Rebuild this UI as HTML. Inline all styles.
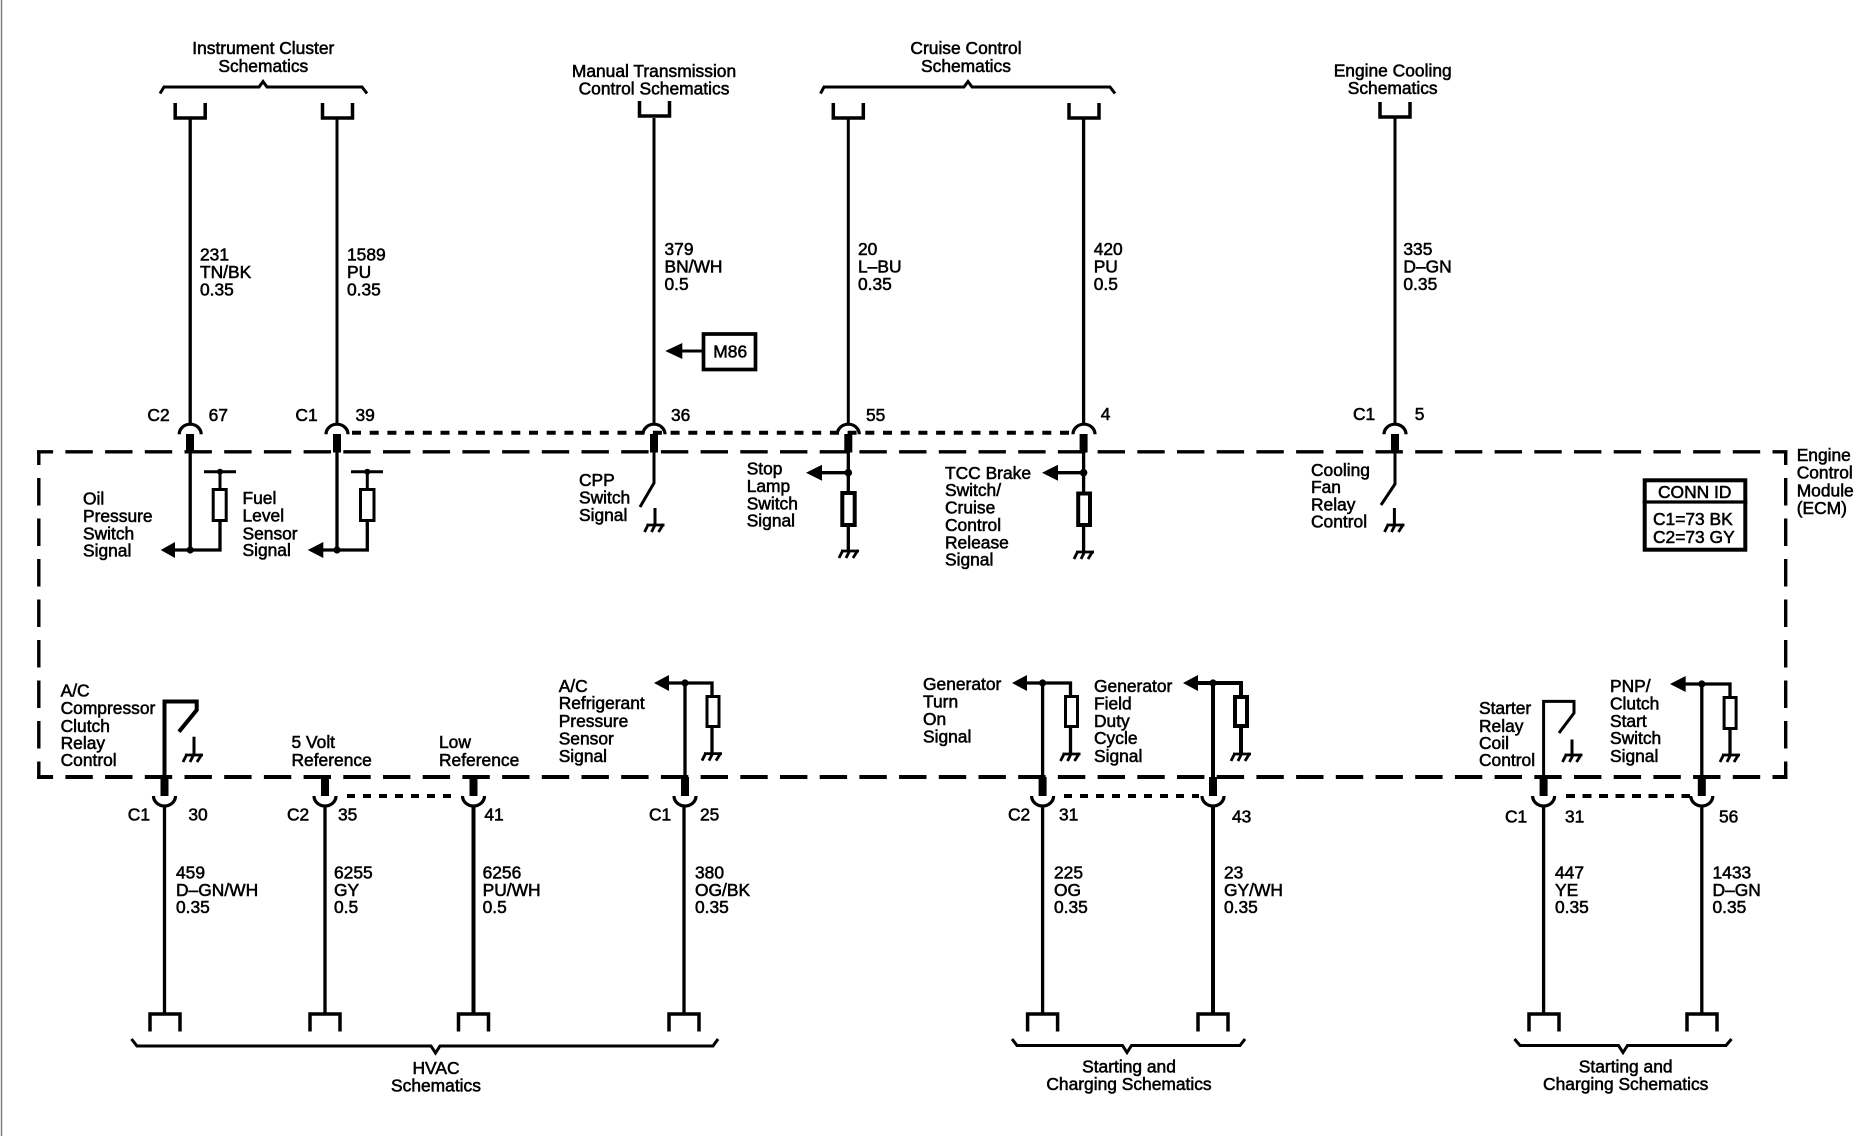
<!DOCTYPE html>
<html><head><meta charset="utf-8"><title>ECM Schematic</title>
<style>
html,body{margin:0;padding:0;background:#fff}
svg{display:block}
text{font-family:"Liberation Sans",sans-serif;font-size:17.4px;fill:#000;stroke:#000;stroke-width:.55}
.m{text-anchor:middle}
.w{fill:none;stroke:#000;stroke-width:3.3}
.t{fill:none;stroke:#000;stroke-width:3}
.b{fill:none;stroke:#000;stroke-width:4}
</style></head><body>
<svg xmlns="http://www.w3.org/2000/svg" width="1864" height="1136" viewBox="0 0 1864 1136">
<defs>
<g id="gnd" fill="none" stroke="#000" stroke-width="2.8"><path d="M-8 0H10M-6 -1L-10 7M1 -1L-3 7M9 -1L4 7"/></g>
<path id="arcT" d="M-11 11.5A11 10 0 0 1 11 11.5" fill="none" stroke="#000" stroke-width="3.2" transform="translate(0,0)"/>
<path id="arcB" d="M-11 0A11 10 0 0 0 11 0" fill="none" stroke="#000" stroke-width="3.2"/>
<path id="cT" d="M-15 0V15H15V0" fill="none" stroke="#000" stroke-width="3.5"/>
<path id="cB" d="M-15 17.5V0H15V17.5" fill="none" stroke="#000" stroke-width="3.5"/>
</defs>
<rect width="1864" height="1136" fill="#fff"/>
<path d="M1.5 0V1136" stroke="#777" stroke-width="1.4"/>

<!-- ECM dashed box -->
<g fill="none" stroke="#000">
<path d="M37 451.8H1787.5" stroke-width="3.4" stroke-dasharray="27.4 12.3" stroke-dashoffset="11.3"/>
<path d="M37 777H1787.5" stroke-width="4" stroke-dasharray="27.4 12.3" stroke-dashoffset="11.3"/>
<path d="M38.8 452V777" stroke-width="3.4" stroke-dasharray="27.5 13" stroke-dashoffset="14.5"/>
<path d="M1785.7 452V777" stroke-width="3.4" stroke-dasharray="27.5 13" stroke-dashoffset="14.5"/>
</g>

<!-- Top braces -->
<g>
<path class="t" d="M160 93.5L164 87H259L263 81.5L267 87H362L367 93.5"/>
<path class="t" d="M820.5 93.5L824 87H964L968 81.5L972 87H1110L1115 93.5"/>
<path class="t" d="M131.5 1039L137 1046H431L435.5 1053L440 1046H713L718 1039"/>
<path class="t" d="M1012 1039L1017 1045.5H1122.5L1127 1052.5L1131.5 1045.5H1240L1245 1039"/>
<path class="t" d="M1514.5 1039L1520 1045.5H1618.5L1623 1052.5L1627.5 1045.5H1726L1731.5 1039"/>
</g>

<!-- Top connectors -->
<use href="#cT" x="190.2" y="103"/><use href="#cT" x="337.5" y="103"/>
<use href="#cT" x="654.5" y="101"/><use href="#cT" x="848.3" y="103"/>
<use href="#cT" x="1084" y="103"/><use href="#cT" x="1395" y="102"/>

<!-- Top wires -->
<path class="w" d="M190.2 119V423"/><path class="t" d="M337 119V423"/>
<path class="t" d="M654 118V423"/><path class="t" d="M848.3 119V423"/>
<path class="w" d="M1083.6 119V423"/><path class="t" d="M1395 118V423"/>

<!-- M86 -->
<rect x="703.5" y="334" width="52" height="35.5" fill="#fff" stroke="#000" stroke-width="3.7"/>
<path d="M682 351H702" stroke="#000" stroke-width="3"/>
<path d="M665.3 351L682.3 343V359Z"/>
<text x="713.3" y="357.3">M86</text>

<!-- Top arcs, plugs -->
<use href="#arcT" x="190.2" y="422.7"/><use href="#arcT" x="337" y="422.7"/>
<use href="#arcT" x="654" y="422.7"/><use href="#arcT" x="848.3" y="422.7"/>
<use href="#arcT" x="1084" y="422.7"/><use href="#arcT" x="1395" y="422.7"/>
<path d="M352 432.7H1072" fill="none" stroke="#000" stroke-width="4" stroke-dasharray="9 8.7"/>
<g fill="#000">
<rect x="186" y="434" width="8" height="18.5"/><rect x="333" y="434" width="8" height="18.5"/>
<rect x="650" y="434" width="8" height="18.5"/><rect x="844.3" y="434" width="8" height="18.5"/>
<rect x="1079.6" y="434" width="8" height="18.5"/><rect x="1391" y="434" width="8" height="18.5"/>
</g>

<!-- Oil pressure / Fuel level -->
<path class="w" d="M190.2 452V550M172 550H220V522"/>
<path class="t" d="M220 488V471.7M204 471.7H236"/>
<rect class="t" x="213.2" y="489.5" width="13" height="31"/>
<path class="w" d="M337 452V550M320 550H367.3V522"/>
<path class="t" d="M367.3 488V471.7M351 471.7H383"/>
<rect class="t" x="360.5" y="489.5" width="13.5" height="31"/>
<path d="M160.7 550L175 542V558Z"/><path d="M307.7 550L323.3 542V558Z"/>
<circle cx="190.2" cy="550" r="3.6"/><circle cx="337" cy="550" r="3.6"/>
<circle cx="220" cy="471.7" r="3"/><circle cx="367.3" cy="471.7" r="3"/>

<!-- CPP switch -->
<path class="t" d="M654 452V483L640 507"/>
<path class="t" d="M655 508V525"/>
<use href="#gnd" x="654.5" y="525"/>

<!-- Stop lamp -->
<path class="w" d="M848.3 452V491M848.3 526.7V551M820 472.7H848"/>
<rect class="b" x="842.3" y="493" width="12.4" height="32"/>
<path d="M806 472.7L822 464.7V480.7Z"/><circle cx="848.3" cy="472.7" r="3.8"/>
<use href="#gnd" x="849" y="551"/>

<!-- TCC -->
<path class="w" d="M1083.6 452V492M1083.6 526V552M1056 472.7H1084"/>
<rect class="b" x="1078.2" y="493.5" width="11.8" height="31.5"/>
<path d="M1042 472.7L1058 464.7V480.7Z"/><circle cx="1083.6" cy="472.7" r="3.8"/>
<use href="#gnd" x="1084" y="552"/>

<!-- Cooling fan -->
<path class="t" d="M1395 452V484L1381 505"/>
<path class="t" d="M1394.4 508V525"/>
<use href="#gnd" x="1394.5" y="525"/>

<!-- CONN ID -->
<rect x="1644.7" y="480.3" width="100.6" height="69.4" fill="#fff" stroke="#000" stroke-width="4"/>
<path d="M1642.7 502H1747.3" stroke="#000" stroke-width="3.2"/>
<text x="1658" y="498">CONN ID</text>
<text x="1653" y="525">C1=73 BK</text>
<text x="1653" y="543">C2=73 GY</text>

<!-- Lower internals -->
<path class="b" d="M164.5 777V701.5H196.7V710L179 731.7"/>
<path class="t" d="M194 736.7V755"/><use href="#gnd" x="193" y="755"/>

<path class="w" d="M685 777V683M669 683H712V695M712 728V753.6"/>
<rect class="t" x="707" y="696.5" width="12" height="30"/>
<path d="M654 683L669 675V691Z"/><circle cx="685" cy="683" r="3.6"/>
<use href="#gnd" x="712" y="753.6"/>

<path class="w" d="M1042.6 777V683M1027 683H1070.5V695M1070.5 728V754"/>
<rect class="t" x="1065.5" y="696.5" width="12" height="30"/>
<path d="M1012 683L1027 675V691Z"/><circle cx="1042.6" cy="683" r="3.6"/>
<use href="#gnd" x="1070.5" y="754"/>

<path class="b" d="M1213 777V683M1198 683H1241V695M1241 728V754"/>
<rect class="b" x="1235" y="697" width="12" height="29"/>
<path d="M1183 683L1198 675V691Z"/><circle cx="1213" cy="683" r="3.6"/>
<use href="#gnd" x="1241" y="754"/>

<path class="t" d="M1543.6 777V701.4H1574V713L1559 733"/>
<path class="t" d="M1572 739.5V755"/><use href="#gnd" x="1572.5" y="755"/>

<path class="w" d="M1701.8 777V684M1685 684H1730V696M1730 730V755"/>
<rect class="t" x="1724.1" y="697.5" width="12" height="31"/>
<path d="M1670 684L1685.7 676V692Z"/><circle cx="1701.8" cy="684" r="3.6"/>
<use href="#gnd" x="1730" y="755"/>

<!-- Lower plugs + arcs -->
<g fill="#000">
<rect x="160.5" y="777" width="8" height="19"/><rect x="321" y="777" width="8" height="19"/>
<rect x="469.5" y="777" width="8" height="19"/><rect x="681" y="777" width="8" height="19"/>
<rect x="1038.6" y="777" width="8" height="19"/><rect x="1209" y="777" width="8" height="19"/>
<rect x="1539.6" y="777" width="8" height="19"/><rect x="1697.8" y="777" width="8" height="19"/>
</g>
<use href="#arcB" x="164.5" y="796"/><use href="#arcB" x="325" y="796"/>
<use href="#arcB" x="473.5" y="796"/><use href="#arcB" x="685" y="796"/>
<use href="#arcB" x="1042.6" y="796"/><use href="#arcB" x="1213" y="796"/>
<use href="#arcB" x="1543.6" y="796"/><use href="#arcB" x="1701.8" y="796"/>
<g fill="none" stroke="#000" stroke-width="4">
<path d="M347 796H459" stroke-dasharray="8 8"/>
<path d="M1064 796H1199" stroke-dasharray="8 8"/>
<path d="M1566 796H1690" stroke-dasharray="9 7.5"/>
</g>

<!-- Lower wires -->
<path class="w" d="M164.5 806V1014"/><path class="w" d="M325 806V1014"/>
<path class="b" d="M473.5 806V1014"/><path class="w" d="M684 806V1014"/>
<path class="w" d="M1042.6 806V1014"/><path class="b" d="M1213 806V1014"/>
<path class="w" d="M1543.6 806V1014"/><path class="w" d="M1701.8 806V1014"/>

<!-- Lower connectors -->
<use href="#cB" x="165" y="1014"/><use href="#cB" x="325" y="1014"/>
<use href="#cB" x="473.5" y="1014"/><use href="#cB" x="684" y="1014"/>
<use href="#cB" x="1042.6" y="1014"/><use href="#cB" x="1213" y="1014"/>
<use href="#cB" x="1544" y="1014"/><use href="#cB" x="1702" y="1014"/>

<!-- Top headers -->
<text class="m" x="263.3" y="54">Instrument Cluster</text>
<text class="m" x="263.3" y="72">Schematics</text>
<text class="m" x="654" y="77">Manual Transmission</text>
<text class="m" x="654" y="94.6">Control Schematics</text>
<text class="m" x="966" y="54">Cruise Control</text>
<text class="m" x="966" y="72">Schematics</text>
<text class="m" x="1392.7" y="76.5">Engine Cooling</text>
<text class="m" x="1392.7" y="94">Schematics</text>

<!-- Top wire labels -->
<text x="200" y="260.5">231</text><text x="200" y="278">TN/BK</text><text x="200" y="295.3">0.35</text>
<text x="347" y="260.5">1589</text><text x="347" y="278">PU</text><text x="347" y="295.3">0.35</text>
<text x="664.5" y="255">379</text><text x="664.5" y="272.4">BN/WH</text><text x="664.5" y="289.8">0.5</text>
<text x="858" y="255">20</text><text x="858" y="272.4">L–BU</text><text x="858" y="289.8">0.35</text>
<text x="1093.7" y="255">420</text><text x="1093.7" y="272.4">PU</text><text x="1093.7" y="289.8">0.5</text>
<text x="1403.4" y="255">335</text><text x="1403.4" y="272.4">D–GN</text><text x="1403.4" y="289.8">0.35</text>

<!-- Top pins -->
<text x="147.4" y="421">C2</text><text x="208.6" y="421">67</text>
<text x="295.4" y="421">C1</text><text x="355.5" y="421">39</text>
<text x="671" y="421">36</text><text x="866" y="421">55</text>
<text x="1100.8" y="420">4</text>
<text x="1353" y="420">C1</text><text x="1414.7" y="420">5</text>

<!-- ECM label -->
<text x="1796.7" y="461">Engine</text><text x="1796.7" y="478.5">Control</text>
<text x="1796.7" y="496.5">Module</text><text x="1796.7" y="514">(ECM)</text>

<!-- Upper internal labels -->
<text x="83" y="504.5">Oil</text><text x="83" y="522">Pressure</text><text x="83" y="539.5">Switch</text><text x="83" y="556.7">Signal</text>
<text x="242.5" y="504">Fuel</text><text x="242.5" y="521.7">Level</text><text x="242.5" y="539.3">Sensor</text><text x="242.5" y="556">Signal</text>
<text x="579" y="486">CPP</text><text x="579" y="503.5">Switch</text><text x="579" y="521">Signal</text>
<text x="746.7" y="474.3">Stop</text><text x="746.7" y="492">Lamp</text><text x="746.7" y="509.3">Switch</text><text x="746.7" y="526.7">Signal</text>
<text x="945" y="478.8">TCC Brake</text><text x="945" y="496">Switch/</text><text x="945" y="513.6">Cruise</text><text x="945" y="531">Control</text><text x="945" y="548.4">Release</text><text x="945" y="565.4">Signal</text>
<text x="1311" y="476">Cooling</text><text x="1311" y="493">Fan</text><text x="1311" y="510.7">Relay</text><text x="1311" y="527.7">Control</text>

<!-- Lower internal labels -->
<text x="60.6" y="696.7">A/C</text><text x="60.6" y="714">Compressor</text><text x="60.6" y="732">Clutch</text><text x="60.6" y="749">Relay</text><text x="60.6" y="766">Control</text>
<text x="291.5" y="748">5 Volt</text><text x="291.5" y="766">Reference</text>
<text x="439" y="748">Low</text><text x="439" y="766">Reference</text>
<text x="558.7" y="692">A/C</text><text x="558.7" y="709">Refrigerant</text><text x="558.7" y="727">Pressure</text><text x="558.7" y="744.5">Sensor</text><text x="558.7" y="762">Signal</text>
<text x="923" y="690">Generator</text><text x="923" y="707.6">Turn</text><text x="923" y="725">On</text><text x="923" y="742.7">Signal</text>
<text x="1094" y="692">Generator</text><text x="1094" y="709.4">Field</text><text x="1094" y="727">Duty</text><text x="1094" y="744">Cycle</text><text x="1094" y="762">Signal</text>
<text x="1479" y="714">Starter</text><text x="1479" y="732">Relay</text><text x="1479" y="749">Coil</text><text x="1479" y="766">Control</text>
<text x="1610" y="692">PNP/</text><text x="1610" y="709.4">Clutch</text><text x="1610" y="727">Start</text><text x="1610" y="744">Switch</text><text x="1610" y="762">Signal</text>

<!-- Lower pins -->
<text x="127.8" y="820.7">C1</text><text x="188.4" y="820.7">30</text>
<text x="287" y="820.7">C2</text><text x="338" y="820.7">35</text>
<text x="484.4" y="820.7">41</text>
<text x="649" y="820.7">C1</text><text x="700" y="820.7">25</text>
<text x="1008" y="820.7">C2</text><text x="1059" y="820.7">31</text>
<text x="1232" y="822.5">43</text>
<text x="1505" y="822.5">C1</text><text x="1565" y="822.5">31</text>
<text x="1719" y="822.5">56</text>

<!-- Lower wire labels -->
<text x="176" y="878.7">459</text><text x="176" y="896">D–GN/WH</text><text x="176" y="913">0.35</text>
<text x="334" y="878.7">6255</text><text x="334" y="896">GY</text><text x="334" y="913">0.5</text>
<text x="482.6" y="878.7">6256</text><text x="482.6" y="896">PU/WH</text><text x="482.6" y="913">0.5</text>
<text x="695" y="878.7">380</text><text x="695" y="896">OG/BK</text><text x="695" y="913">0.35</text>
<text x="1054" y="878.7">225</text><text x="1054" y="896">OG</text><text x="1054" y="913">0.35</text>
<text x="1224" y="878.7">23</text><text x="1224" y="896">GY/WH</text><text x="1224" y="913">0.35</text>
<text x="1555" y="878.7">447</text><text x="1555" y="896">YE</text><text x="1555" y="913">0.35</text>
<text x="1712.5" y="878.7">1433</text><text x="1712.5" y="896">D–GN</text><text x="1712.5" y="913">0.35</text>

<!-- Bottom captions -->
<text class="m" x="436" y="1074">HVAC</text><text class="m" x="436" y="1091.7">Schematics</text>
<text class="m" x="1129" y="1072.5">Starting and</text><text class="m" x="1129" y="1090">Charging Schematics</text>
<text class="m" x="1625.7" y="1072.5">Starting and</text><text class="m" x="1625.7" y="1090">Charging Schematics</text>
</svg>
</body></html>
